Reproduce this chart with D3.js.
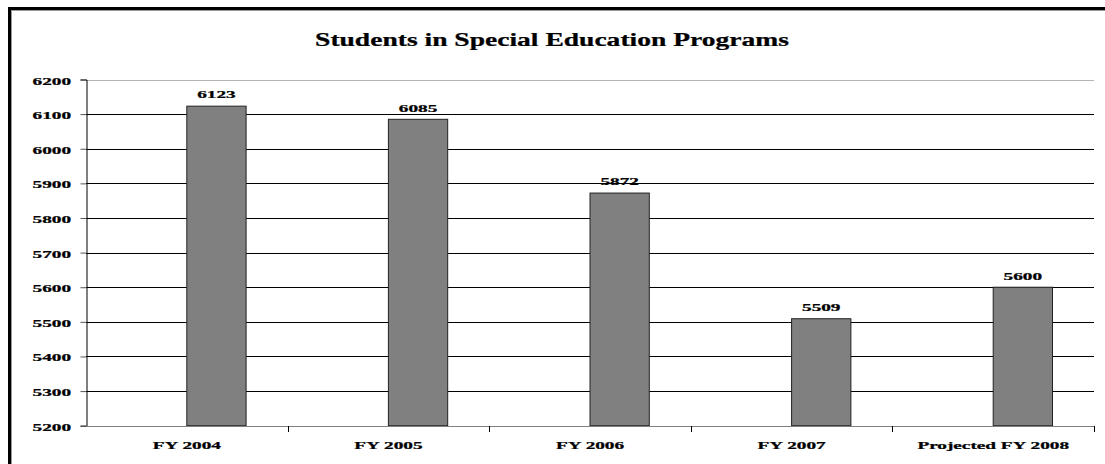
<!DOCTYPE html>
<html><head><meta charset="utf-8">
<script src="https://cdn.jsdelivr.net/npm/d3@7"></script>
<style>body{margin:0;background:#fff;} svg{display:block;}</style>
</head><body>
<svg id="c" width="1105" height="464"></svg>
<script>
const categories = ["FY 2004", "FY 2005", "FY 2006", "FY 2007", "Projected FY 2008"];
const students = [6123, 6085, 5872, 5509, 5600];
const yTicks = [5200, 5300, 5400, 5500, 5600, 5700, 5800, 5900, 6000, 6100, 6200];
const title = "Students in Special Education Programs";

const svg = d3.select("#c");
const font = "'Liberation Serif','Times New Roman',serif";
const SX = 1.75, TSX = 1.45;

// frame
svg.append("rect").attr("x", 9.5).attr("y", 8.5).attr("width", 1300).attr("height", 700)
  .attr("fill", "none").attr("stroke", "#000").attr("stroke-width", 3);
svg.append("line").attr("x1", 11).attr("x2", 1105).attr("y1", 10.5).attr("y2", 10.5).attr("stroke", "#999");
svg.append("line").attr("x1", 11.5).attr("x2", 11.5).attr("y1", 10).attr("y2", 464).attr("stroke", "#999");

const L = 86, R = 1094, T = 79.5, B = 425.7;
const x = d3.scaleBand().domain(categories).range([L, R]).padding(0);
const sub = d3.scaleBand().domain(["none", "count"]).range([0, x.bandwidth()]).paddingInner(0).paddingOuter(0.7);
const y = d3.scaleLinear().domain([5200, 6200]).range([B, T]);

// gridlines
svg.append("g").selectAll("line").data(yTicks.filter(v => v > 5200)).join("line")
  .attr("x1", L).attr("x2", R).attr("y1", d => Math.round(y(d)) + 0.5).attr("y2", d => Math.round(y(d)) + 0.5)
  .attr("stroke", d => d === 6200 ? "#b4b4b4" : "#000").attr("stroke-width", 1);

// bars
svg.append("g").selectAll("rect").data(students).join("rect")
  .attr("x", (d, i) => x(categories[i]) + sub("count"))
  .attr("width", sub.bandwidth())
  .attr("y", d => y(d))
  .attr("height", d => B - y(d))
  .attr("fill", "#808080").attr("stroke", "#222").attr("stroke-width", 1);

// y axis
const ya = svg.append("g").attr("transform", `translate(${L + 0.5},0)`)
  .call(d3.axisLeft(y).tickValues(yTicks).tickSize(6).tickFormat(""));
ya.select(".domain").attr("stroke", "#000");
ya.selectAll(".tick line").attr("stroke", "#555");

// x axis
const xa = svg.append("g").attr("transform", `translate(0,${Math.round(B) + 0.5})`)
  .call(d3.axisBottom(x).tickSize(0).tickFormat(""));
xa.select(".domain").attr("stroke", "#808080").attr("d", `M${L},0H${R}`);
svg.append("g").selectAll("line").data(categories.slice(1).concat(["end"])).join("line")
  .attr("x1", (d, i) => d === "end" ? R + 0.5 : Math.round(x(d)) + 0.5)
  .attr("x2", (d, i) => d === "end" ? R + 0.5 : Math.round(x(d)) + 0.5)
  .attr("y1", Math.round(B)).attr("y2", Math.round(B) + 6).attr("stroke", "#000");

function label(g, tx, ty, text, size, sx, anchor) {
  g.append("text").attr("transform", `translate(${tx},${ty}) scale(${sx},1)`)
    .attr("text-anchor", anchor).attr("font-family", font).attr("font-weight", "bold")
    .attr("font-size", size).attr("fill", "#000")
    .attr("stroke", "#000").attr("stroke-width", 0.25).text(text);
}
const tg = svg.append("g");
yTicks.forEach(v => label(tg, 71, y(v) + 5, String(v), 11, SX, "end"));
categories.forEach(c => label(tg, x(c) + x.bandwidth() / 2, 449, c, 11, SX, "middle"));
students.forEach((v, i) => label(tg, x(categories[i]) + sub("count") + sub.bandwidth() / 2, y(v) - 7.7, String(v), 11, SX, "middle"));
label(tg, 552, 46, title, 19, TSX, "middle");
</script>
</body></html>
